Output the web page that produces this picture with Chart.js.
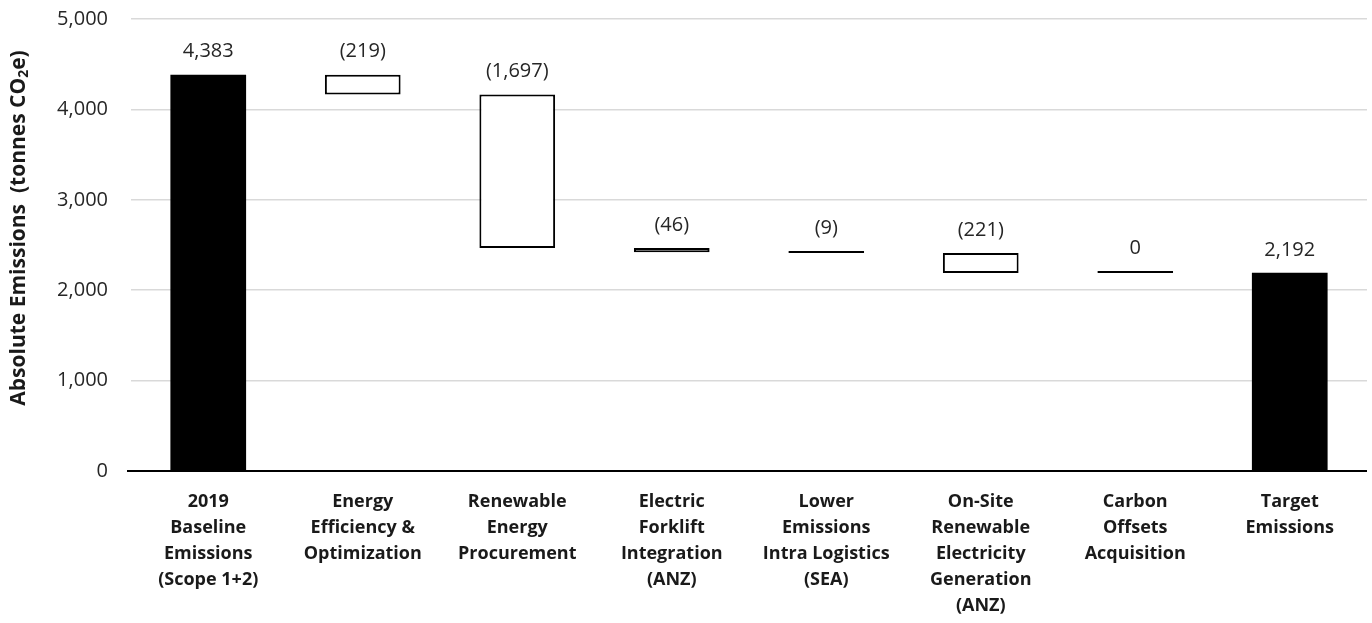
<!DOCTYPE html>
<html>
<head>
<meta charset="utf-8">
<script src="https://cdn.jsdelivr.net/npm/chart.js@4.4.1/dist/chart.umd.min.js"></script>
<style>
  html, body { margin: 0; padding: 0; background: #ffffff; }
  #wrap { width: 1372px; height: 623px; position: relative; }
</style>
</head>
<body>
<div id="wrap"><canvas id="chart"></canvas></div>
<script>
// Categories (wrapped into lines for the x axis)
const categories = [
  ["2019", "Baseline", "Emissions", "(Scope 1+2)"],
  ["Energy", "Efficiency &", "Optimization"],
  ["Renewable", "Energy", "Procurement"],
  ["Electric", "Forklift", "Integration", "(ANZ)"],
  ["Lower", "Emissions", "Intra Logistics", "(SEA)"],
  ["On-Site", "Renewable", "Electricity", "Generation", "(ANZ)"],
  ["Carbon", "Offsets", "Acquisition"],
  ["Target", "Emissions"]
];

// Emission totals and reductions (tonnes CO2e)
const baselineValue = 4383;
const reductions = [-219, -1697, -46, -9, -221, 0];
const targetValue = 2192;

// Y axis ticks
const yTicks = [0, 1000, 2000, 3000, 4000, 5000];

const FONT = '"Open Sans", "Noto Sans", sans-serif';

// Floating bars: totals start at zero, reductions hang from the running total
const ranges = [[0, baselineValue]];
const labelValues = [baselineValue];
let running = baselineValue;
reductions.forEach(r => {
  const next = running + r;
  ranges.push([next, running]);
  labelValues.push(r);
  running = next;
});
ranges.push([0, targetValue]);
labelValues.push(targetValue);

const isTotal = ranges.map((_, i) => i === 0 || i === ranges.length - 1);

const fmt = v => {
  const s = Math.abs(v).toLocaleString('en-US');
  return v < 0 ? '(' + s + ')' : s;
};

// Value labels above each bar
const valueLabels = {
  id: 'valueLabels',
  afterDatasetsDraw(chart) {
    const ctx = chart.ctx;
    const meta = chart.getDatasetMeta(0);
    ctx.save();
    ctx.font = '20px ' + FONT;
    ctx.fillStyle = '#262626';
    ctx.textAlign = 'center';
    ctx.textBaseline = 'middle';
    meta.data.forEach((bar, i) => {
      const top = Math.min(bar.y, bar.base);
      ctx.fillText(fmt(labelValues[i]), bar.x, top - 23);
    });
    ctx.restore();
  }
};

// Zero line extends a little past the left edge of the plot
const baseLine = {
  id: 'baseLine',
  beforeDatasetsDraw(chart) {
    const ctx = chart.ctx;
    const y = chart.scales.y.getPixelForValue(0);
    ctx.save();
    ctx.strokeStyle = '#000000';
    ctx.lineWidth = 2;
    ctx.beginPath();
    ctx.moveTo(chart.chartArea.left - 4, y);
    ctx.lineTo(chart.chartArea.right, y);
    ctx.stroke();
    ctx.restore();
  }
};

// Rotated y axis title with a subscript "2" in CO2e
const yTitle = {
  id: 'yTitle',
  afterDraw(chart) {
    const ctx = chart.ctx;
    const parts = [
      { t: 'Absolute Emissions  (tonnes CO', size: 21, dy: 0 },
      { t: '2', size: 14, dy: 5 },
      { t: 'e)', size: 21, dy: 0 }
    ];
    ctx.save();
    ctx.fillStyle = '#1a1a1a';
    ctx.textBaseline = 'middle';
    ctx.textAlign = 'left';
    let total = 0;
    parts.forEach(p => {
      ctx.font = 'bold ' + p.size + 'px ' + FONT;
      p.w = ctx.measureText(p.t).width;
      total += p.w;
    });
    const area = chart.chartArea;
    ctx.translate(19, (area.top + area.bottom) / 2 - 17);
    ctx.rotate(-Math.PI / 2);
    let x = -total / 2;
    parts.forEach(p => {
      ctx.font = 'bold ' + p.size + 'px ' + FONT;
      ctx.fillText(p.t, x, p.dy);
      x += p.w;
    });
    ctx.restore();
  }
};

new Chart(document.getElementById('chart'), {
  type: 'bar',
  data: {
    labels: categories,
    datasets: [{
      data: ranges,
      backgroundColor: isTotal.map(t => t ? '#000000' : '#ffffff'),
      borderColor: '#000000',
      borderWidth: isTotal.map(t => t ? 0 : 2),
      borderSkipped: false,
      minBarLength: 2,
      categoryPercentage: 1,
      barPercentage: 0.49
    }]
  },
  options: {
    responsive: true,
    maintainAspectRatio: false,
    animation: false,
    layout: { padding: { top: 19, right: 5, left: 0, bottom: 0 } },
    plugins: {
      legend: { display: false },
      tooltip: { enabled: false }
    },
    scales: {
      x: {
        grid: { display: false, drawTicks: false },
        border: { display: false },
        ticks: {
          color: '#1a1a1a',
          font: { family: FONT, size: 18, weight: 'bold', lineHeight: 26 / 18 },
          maxRotation: 0,
          autoSkip: false,
          padding: 18
        },
        afterFit(scale) {
          scale.height = 152;
          scale.paddingLeft = 0;
          scale.paddingRight = 0;
        }
      },
      y: {
        min: 0,
        max: 5000,
        afterBuildTicks(axis) { axis.ticks = yTicks.map(v => ({ value: v })); },
        border: { display: false },
        grid: {
          color: c => c.tick && c.tick.value === 0 ? '#000000' : '#d9d9d9',
          lineWidth: c => c.tick && c.tick.value === 0 ? 2 : 1.5,
          drawTicks: false
        },
        ticks: {
          color: '#262626',
          font: { family: FONT, size: 20 },
          padding: 23,
          callback: v => v.toLocaleString('en-US')
        },
        afterFit(scale) {
          scale.width = 131;
          scale.paddingTop = 0;
          scale.paddingBottom = 0;
        }
      }
    }
  },
  plugins: [baseLine, valueLabels, yTitle]
});
</script>
</body>
</html>
